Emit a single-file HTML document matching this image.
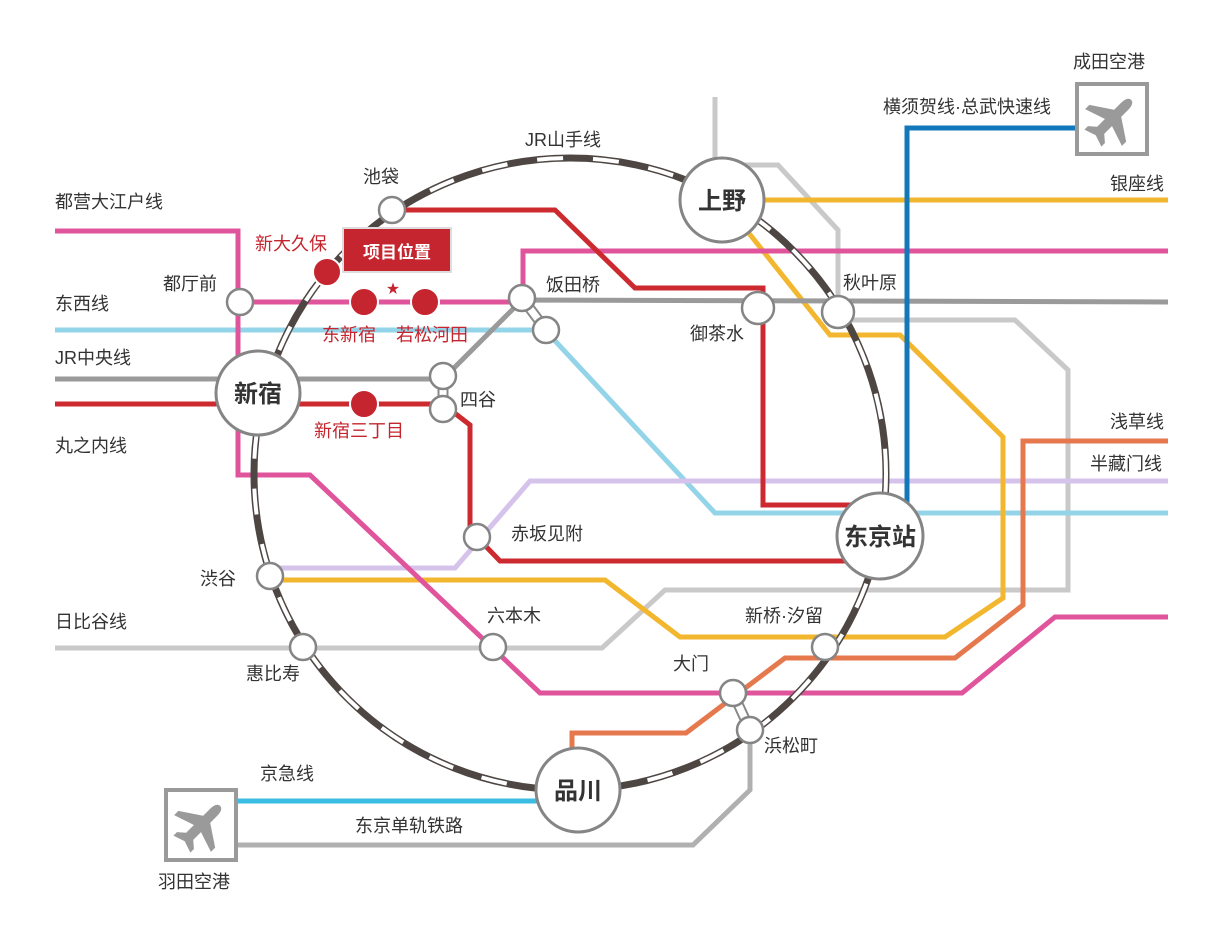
<!DOCTYPE html>
<html><head><meta charset="utf-8"><style>
html,body{margin:0;padding:0;background:#fff;}
svg{display:block;font-family:"Liberation Sans","Noto Sans CJK SC",sans-serif;}
</style></head><body>
<svg width="1213" height="943" viewBox="0 0 1213 943" xmlns="http://www.w3.org/2000/svg">
<defs><path id="pl" d="M0,-27 C4,-27 5,-22 5,-18 L5,-8 L26,6 L26,12 L5,5 L5,16 L12,22 L12,27 L0,23 L-12,27 L-12,22 L-5,16 L-5,5 L-26,12 L-26,6 L-5,-8 L-5,-18 C-5,-22 -4,-27 0,-27Z"/></defs>
<g fill="none" stroke-width="5" stroke-linejoin="miter">
<polyline stroke="#c9c9c9" points="55,648 602,648 665,590 1068,590 1068,370 1015,320 838,320 838,230 778,165 715,165 715,97"/>
<polyline stroke="#b0b0b0" points="237,845 693,845 750,790 750,730"/>
<polyline stroke="#3bbce2" points="237,801 540,801"/>
<polyline stroke="#94d4e8" points="55,330 545,330 715,513 1168,513"/>
<polyline stroke="#d5c3ec" points="1168,481 530,481 455,568 270,568"/>
<polyline stroke="#f3b72f" points="725,200 1168,200"/>
<polyline stroke="#f3b72f" points="740,222 830,335 900,335 1003,437 1003,598 945,637 680,637 605,580 270,580"/>
<polyline stroke="#9a9a9a" points="55,379 443,379 522,300 1168,302"/>
<polyline stroke="#e0549c" points="55,231 238,231 238,475 310,475 540,693 962,693 1055,617 1168,617"/>
<polyline stroke="#e0549c" points="240,302 523,302 523,251 1168,251"/>
<polyline stroke="#cc2a2f" points="55,404 443,404 470,425 470,530 500,561 860,561"/>
<polyline stroke="#cc2a2f" points="392,210 555,210 635,288 763,288 763,505 860,505"/>
<polyline stroke="#e5784c" points="1168,441 1023,441 1023,605 955,658 785,658 686,733 572,733 572,748"/>
<polyline stroke="#1378ba" points="907,505 907,128 1075,128"/>
<circle cx="570" cy="474" r="316" stroke="#4e4643" stroke-width="7"/>
<circle cx="570" cy="474" r="316" stroke="#fff" stroke-width="4" stroke-dasharray="26 30"/>
</g>
<g stroke="#888" stroke-width="11"><line x1="522" y1="298" x2="546" y2="330"/><line x1="443" y1="376" x2="443" y2="409"/><line x1="733" y1="693" x2="750" y2="730"/></g>
<g stroke="#fff" stroke-width="7"><line x1="522" y1="298" x2="546" y2="330"/><line x1="443" y1="376" x2="443" y2="409"/><line x1="733" y1="693" x2="750" y2="730"/></g>
<g fill="#fff" stroke="#858585" stroke-width="2.5">
<circle cx="392" cy="210" r="13"/><circle cx="240" cy="302" r="13"/><circle cx="522" cy="298" r="13"/><circle cx="546" cy="330" r="13"/>
<circle cx="758" cy="308" r="16"/><circle cx="838" cy="312" r="16"/><circle cx="443" cy="376" r="13"/><circle cx="443" cy="409" r="13"/>
<circle cx="477" cy="537" r="13"/><circle cx="270" cy="576" r="13"/><circle cx="303" cy="647" r="13"/><circle cx="493" cy="647" r="13"/>
<circle cx="825" cy="647" r="13"/><circle cx="733" cy="693" r="13"/><circle cx="750" cy="730" r="13"/>
</g>
<g fill="#fff" stroke="#858585" stroke-width="3">
<circle cx="722" cy="200" r="42"/><circle cx="880" cy="536" r="43"/><circle cx="258" cy="393" r="42"/><circle cx="578" cy="790" r="42"/>
</g>
<g fill="#c4252e" stroke="#fff" stroke-width="2">
<circle cx="327" cy="272" r="14"/><circle cx="364" cy="302" r="14"/><circle cx="425" cy="302" r="14"/><circle cx="364" cy="404" r="14"/>
</g>
<rect x="343" y="228" width="108" height="44" fill="#c4252e" stroke="#ddd" stroke-width="2"/>
<text x="397" y="258" fill="#fff" font-size="17" font-weight="bold" text-anchor="middle">项目位置</text>
<text x="393" y="293" fill="#c4252e" font-size="13" text-anchor="middle">★</text>
<g fill="#fff" stroke="#9a9a9a" stroke-width="4"><rect x="1077" y="84" width="70" height="70"/><rect x="166" y="790" width="70" height="70"/></g>
<g fill="#9a9a9a"><use href="#pl" transform="translate(1112,119) rotate(45)"/><use href="#pl" transform="translate(201,825) rotate(45)"/></g>
<g font-size="24" font-weight="bold" fill="#333" text-anchor="middle">
<text x="722" y="209">上野</text><text x="880" y="545">东京站</text><text x="258" y="402">新宿</text><text x="578" y="799">品川</text>
</g>
<g font-size="18" fill="#333">
<text x="525" y="146">JR山手线</text><text x="363" y="183">池袋</text><text x="55" y="208">都营大江户线</text>
<text x="163" y="290">都厅前</text><text x="55" y="310">东西线</text><text x="55" y="364">JR中央线</text><text x="55" y="452">丸之内线</text>
<text x="546" y="291">饭田桥</text><text x="690" y="340">御茶水</text><text x="843" y="289">秋叶原</text>
<text x="460" y="406">四谷</text><text x="511" y="540">赤坂见附</text><text x="200" y="585">渋谷</text>
<text x="55" y="628">日比谷线</text><text x="487" y="622">六本木</text><text x="745" y="622">新桥·汐留</text>
<text x="246" y="680">惠比寿</text><text x="673" y="670">大门</text><text x="764" y="752">浜松町</text>
<text x="260" y="780">京急线</text><text x="355" y="832">东京单轨铁路</text><text x="158" y="888">羽田空港</text>
<text x="1073" y="68">成田空港</text><text x="883" y="113">横须贺线·总武快速线</text><text x="1110" y="190">银座线</text>
<text x="1110" y="428">浅草线</text><text x="1090" y="470">半藏门线</text>
</g>
<g font-size="18" fill="#c4252e">
<text x="255" y="250">新大久保</text><text x="322" y="341">东新宿</text><text x="396" y="341">若松河田</text><text x="314" y="437">新宿三丁目</text>
</g>
</svg>
</body></html>
